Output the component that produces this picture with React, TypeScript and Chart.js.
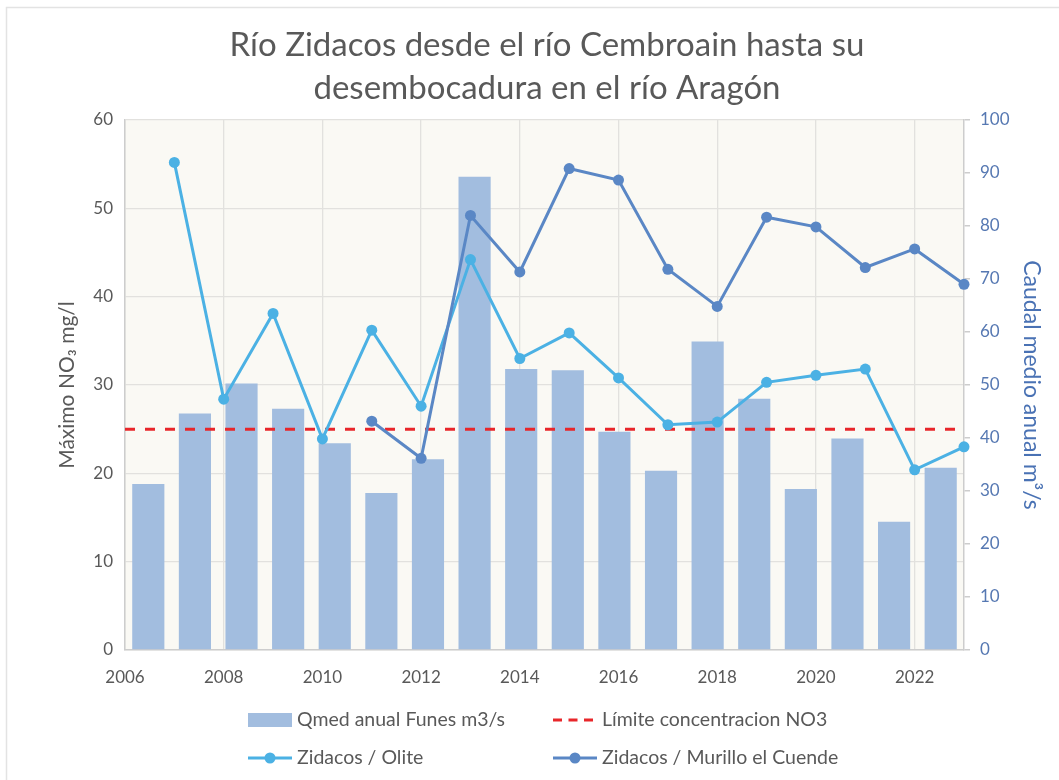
import React, { useEffect, useRef } from "react";
import { Chart, registerables } from "chart.js";

Chart.register(...registerables);

// ---- Data ----
const years = [2006, 2007, 2008, 2009, 2010, 2011, 2012, 2013, 2014, 2015, 2016, 2017, 2018, 2019, 2020, 2021, 2022, 2023];
const qmedFunes = [31.3, 44.6, 50.3, 45.5, 39.0, 29.6, 36.0, 89.3, 53.0, 52.8, 41.2, 33.8, 58.2, 47.4, 30.4, 39.9, 24.2, 34.4];

const oliteYears = [2007, 2008, 2009, 2010, 2011, 2012, 2013, 2014, 2015, 2016, 2017, 2018, 2019, 2020, 2021, 2022, 2023];
const oliteNO3 = [55.2, 28.4, 38.1, 23.9, 36.2, 27.6, 44.2, 33.0, 35.9, 30.8, 25.5, 25.8, 30.3, 31.1, 31.8, 20.4, 23.0];

const murilloYears = [2011, 2012, 2013, 2014, 2015, 2016, 2017, 2018, 2019, 2020, 2021, 2022, 2023];
const murilloNO3 = [25.9, 21.7, 49.2, 42.8, 54.5, 53.2, 43.1, 38.9, 49.0, 47.9, 43.3, 45.4, 41.4];

const limitYears = [2006, 2023];
const limitNO3 = [25, 25];

const titleLines = ["Río Zidacos desde el río Cembroain hasta su", "desembocadura en el río Aragón"];
const seriesLabels = ["Qmed anual Funes m3/s", "Límite concentracion NO3", "Zidacos / Olite", "Zidacos / Murillo el Cuende"];
const leftAxisTitle = "Máximo NO₃ mg/l";
const rightAxisTitle = "Caudal medio anual m³/s";

// ---- Styles ----
const FONT = "Lato, 'Open Sans', 'DejaVu Sans', sans-serif";
const TEXT = "#595959";
const GRID = "#E2E1DE";
const AXIS = "#CDCDCD";
const BAR = "#A2BDDF";
const OLITE = "#4BB1E4";
const MURILLO = "#5A87C5";
const RED = "#E8262A";
const RIGHT_TEXT = "#5678B2";

const toPoints = (xs: number[], ys: number[]) => xs.map((x, i) => ({ x, y: ys[i] }));

const backgroundPlugin = {
  id: "bgPlugin",
  beforeDraw(chart: any) {
    const { ctx, chartArea } = chart;
    ctx.save();
    ctx.fillStyle = "#ffffff";
    ctx.fillRect(0, 0, chart.width, chart.height);
    ctx.strokeStyle = "#E3E3E3";
    ctx.lineWidth = 1.5;
    ctx.beginPath();
    ctx.moveTo(6.5, chart.height);
    ctx.lineTo(6.5, 7.5);
    ctx.lineTo(chart.width, 7.5);
    ctx.stroke();
    ctx.fillStyle = "#FAF9F4";
    ctx.fillRect(chartArea.left, chartArea.top, chartArea.right - chartArea.left, chartArea.bottom - chartArea.top);
    ctx.restore();
  },
};

const legendPlugin = {
  id: "customLegend",
  afterDraw(chart: any) {
    const { ctx } = chart;
    const cols = [248, 553];
    const rows = [chart.height - 60, chart.height - 22];
    const sw = 44;
    ctx.save();
    chart.data.datasets.forEach((ds: any, i: number) => {
      const x = cols[i % 2];
      const y = rows[Math.floor(i / 2)];
      if (ds.type === "bar") {
        ctx.fillStyle = ds.backgroundColor;
        ctx.fillRect(x, y - 7, sw, 14);
      } else {
        ctx.strokeStyle = ds.borderColor;
        ctx.lineWidth = 3;
        ctx.setLineDash(ds.borderDash ? [9, 6.5] : []);
        ctx.beginPath();
        ctx.moveTo(x, y);
        ctx.lineTo(x + sw, y);
        ctx.stroke();
        ctx.setLineDash([]);
        if (ds.pointRadius > 0) {
          ctx.fillStyle = ds.pointBackgroundColor;
          ctx.beginPath();
          ctx.arc(x + sw / 2, y, 5.5, 0, Math.PI * 2);
          ctx.fill();
        }
      }
      ctx.fillStyle = TEXT;
      ctx.font = `19.5px ${FONT}`;
      ctx.textBaseline = "middle";
      ctx.textAlign = "left";
      ctx.fillText(ds.label, x + sw + 5, y);
    });
    ctx.restore();
  },
};

export default function App() {
  const ref = useRef<HTMLCanvasElement>(null);

  useEffect(() => {
    if (!ref.current) return;
    const chart = new Chart(ref.current, {
      type: "line",
      data: {
        labels: years.map(String),
        datasets: [
          {
            type: "bar",
            label: seriesLabels[0],
            data: qmedFunes,
            backgroundColor: BAR,
            xAxisID: "xb",
            yAxisID: "y2",
            categoryPercentage: 1,
            barPercentage: 0.69,
            grouped: false,
            order: 4,
          } as any,
          {
            type: "line",
            label: seriesLabels[1],
            data: toPoints(limitYears, limitNO3),
            borderColor: RED,
            borderWidth: 3,
            borderDash: [10, 10],
            pointRadius: 0,
            xAxisID: "x",
            yAxisID: "y",
            order: 3,
          } as any,
          {
            type: "line",
            label: seriesLabels[2],
            data: toPoints(oliteYears, oliteNO3),
            borderColor: OLITE,
            backgroundColor: OLITE,
            pointBackgroundColor: OLITE,
            pointBorderColor: OLITE,
            borderWidth: 3,
            pointRadius: 5.5,
            pointBorderWidth: 0,
            clip: false,
            xAxisID: "x",
            yAxisID: "y",
            order: 2,
          } as any,
          {
            type: "line",
            label: seriesLabels[3],
            data: toPoints(murilloYears, murilloNO3),
            borderColor: MURILLO,
            backgroundColor: MURILLO,
            pointBackgroundColor: MURILLO,
            pointBorderColor: MURILLO,
            borderWidth: 3,
            pointRadius: 5.5,
            pointBorderWidth: 0,
            clip: false,
            xAxisID: "x",
            yAxisID: "y",
            order: 1,
          } as any,
        ],
      },
      options: {
        responsive: false,
        animation: false,
        events: [],
        layout: { padding: { top: 18, left: 45, right: 10, bottom: 80 } },
        plugins: {
          legend: { display: false },
          tooltip: { enabled: false },
          title: {
            display: true,
            text: titleLines,
            color: TEXT,
            font: { family: FONT, size: 33, weight: "normal", lineHeight: 43 / 33 },
            padding: { top: 6, bottom: 10 },
          },
        },
        scales: {
          x: {
            type: "linear",
            position: "bottom",
            offset: false,
            min: 2006,
            max: 2023,
            ticks: {
              stepSize: 2,
              includeBounds: false,
              color: TEXT,
              font: { family: FONT, size: 17 },
              padding: 17,
              maxRotation: 0,
              callback: (v: any) => String(v),
            },
            grid: { color: GRID, lineWidth: 1.3, drawTicks: false, offset: false },
            border: { color: AXIS, width: 1.5 },
            afterFit: (s: any) => {
              s.height = 50;
            },
          },
          xb: {
            type: "category",
            display: false,
            offset: true,
          },
          y: {
            type: "linear",
            position: "left",
            min: 0,
            max: 60,
            ticks: { stepSize: 10, color: TEXT, font: { family: FONT, size: 17 }, padding: 12 },
            grid: { color: GRID, lineWidth: 1.3, drawTicks: false },
            border: { color: AXIS, width: 1.5 },
            title: {
              display: true,
              text: leftAxisTitle,
              color: TEXT,
              font: { family: FONT, size: 21 },
              padding: { top: 10, bottom: 0 },
            },
            afterFit: (s: any) => {
              s.width = 80;
            },
          },
          y2: {
            type: "linear",
            position: "right",
            min: 0,
            max: 100,
            ticks: { stepSize: 10, color: RIGHT_TEXT, font: { family: FONT, size: 17 }, padding: 10 },
            grid: { drawOnChartArea: false, drawTicks: true, tickLength: 6, color: AXIS, lineWidth: 1.5 },
            border: { color: AXIS, width: 1.5 },
            title: {
              display: true,
              text: rightAxisTitle,
              color: "#4A72B4",
              font: { family: FONT, size: 23 },
              padding: { top: 4, bottom: 0 },
            },
            afterFit: (s: any) => {
              s.width = 85;
            },
          },
        },
      } as any,
      plugins: [backgroundPlugin, legendPlugin],
    });
    return () => chart.destroy();
  }, []);

  return (
    <div style={{ position: "fixed", left: 0, top: 0, width: 1059, height: 780, background: "#fff" }}>
      <canvas ref={ref} width={1059} height={780} style={{ display: "block" }} />
    </div>
  );
}
